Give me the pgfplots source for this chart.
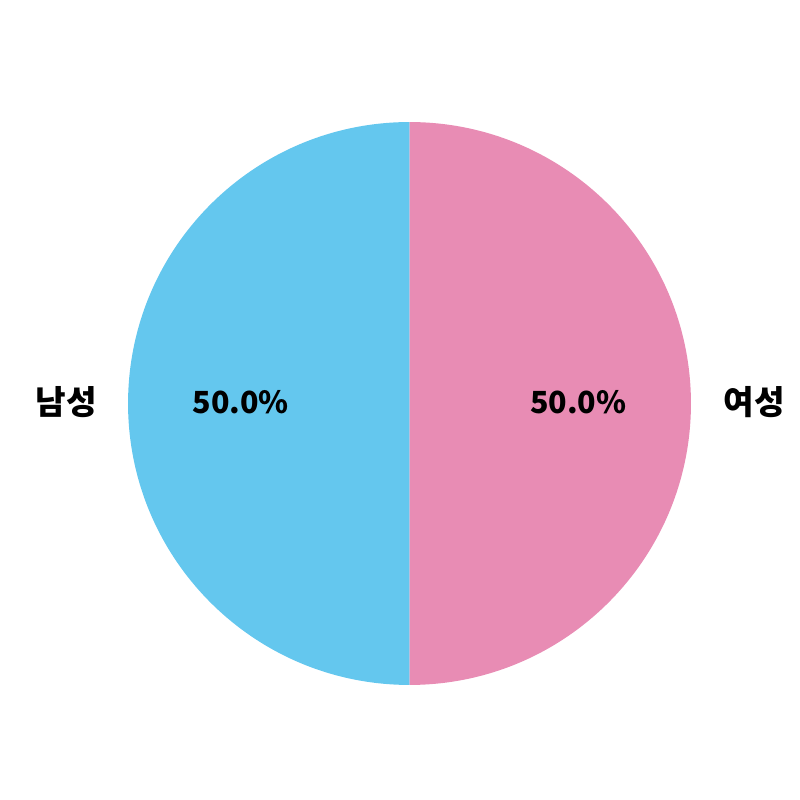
\documentclass[border=0pt]{standalone}
\usepackage{pgfplots}
\usepackage{pgfplotstable}
\pgfplotsset{compat=1.18}
\usetikzlibrary{calc}
\usepackage{fontspec}
\setmainfont{Noto Sans CJK KR}
\definecolor{maleblue}{HTML}{64C7EE}
\definecolor{femalepink}{HTML}{E88CB4}
\pgfplotstableread{
label value
남성 50
여성 50
}\piedata
\begin{document}
\begin{tikzpicture}
\pgfplotstablegetelem{0}{value}\of\piedata \edef\va{\pgfplotsretval}
\pgfplotstablegetelem{1}{value}\of\piedata \edef\vb{\pgfplotsretval}
\pgfmathsetmacro\tot{\va+\vb}
\pgfmathsetmacro\fa{\va/\tot}
\pgfmathsetmacro\fb{\vb/\tot}
\pgfmathsetmacro\angA{90+360*\fa}
\pgfmathsetmacro\angB{\angA+360*\fb}
\pgfmathsetmacro\midA{(90+\angA)/2}
\pgfmathsetmacro\midB{(\angA+\angB)/2}
\pgfmathsetmacro\pa{100*\fa}
\pgfmathsetmacro\pb{100*\fb}
\def\R{203.4pt}
\begin{axis}[scale only axis, width=8in, height=8in,
  xmin=0, xmax=800, ymin=0, ymax=800, hide axis, clip=false]
\path (axis cs:0,0) rectangle (axis cs:800,800);
\fill[maleblue] (axis cs:409.5,396.5) -- ++(90:\R) arc[start angle=90, end angle=\angA, radius=\R] -- cycle;
\fill[femalepink] (axis cs:409.5,396.5) -- ++(\angA:\R) arc[start angle=\angA, end angle=\angB, radius=\R] -- cycle;
\node[font=\fontsize{22}{26}\selectfont\bfseries] at ($(axis cs:409.5,398)+(\midA:0.6*\R)$) {\pgfmathprintnumber[fixed,fixed zerofill,precision=1,assume math mode=true]{\pa}\%};
\node[font=\fontsize{22}{26}\selectfont\bfseries] at ($(axis cs:409.5,398)+(\midB:0.6*\R)$) {\pgfmathprintnumber[fixed,fixed zerofill,precision=1,assume math mode=true]{\pb}\%};
\node[font=\fontsize{24}{28}\selectfont\bfseries, anchor=east] at ($(axis cs:411.5,397.5)+(\midA:1.1*\R)$) {남성};
\node[font=\fontsize{24}{28}\selectfont\bfseries, anchor=west] at ($(axis cs:409.5,397.5)+(\midB:1.1*\R)$) {여성};
\end{axis}
\end{tikzpicture}
\end{document}
